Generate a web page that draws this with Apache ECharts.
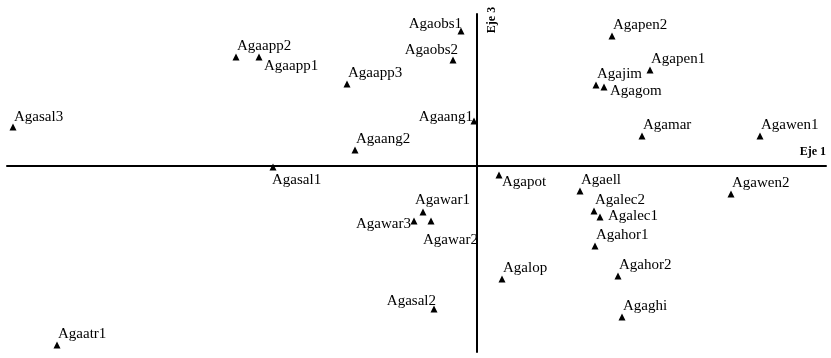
<!DOCTYPE html>
<html>
<head>
<meta charset="utf-8">
<script src="https://cdn.jsdelivr.net/npm/echarts@6/dist/echarts.min.js"></script>
<style>html,body{margin:0;padding:0;background:#fff}#c{width:831px;height:358px}</style>
</head>
<body>
<div id="c"></div>
<script>
// ---- data ----
var names = ['Agasal3','Agaapp2','Agaapp1','Agaapp3','Agaang2','Agasal1','Agaobs1','Agaobs2','Agaang1',
  'Agapen2','Agapen1','Agajim','Agagom','Agamar','Agawen1','Agapot','Agaell','Agalec2','Agalec1',
  'Agahor1','Agahor2','Agaghi','Agalop','Agawen2','Agawar1','Agawar3','Agawar2','Agasal2','Agaatr1'];
var eje1 = [-4.64,-2.41,-2.18,-1.30,-1.22,-2.04,-0.16,-0.24,-0.03,
  1.35,1.73,1.19,1.27,1.65,2.83,0.22,1.03,1.17,1.23,
  1.18,1.41,1.45,0.25,2.54,-0.54,-0.63,-0.46,-0.43,-4.20];
var eje3 = [0.39,1.09,1.09,0.82,0.16,-0.01,1.35,1.06,0.45,
  1.30,0.96,0.81,0.79,0.30,0.30,-0.09,-0.25,-0.45,-0.51,
  -0.80,-1.10,-1.51,-1.13,-0.28,-0.46,-0.55,-0.55,-1.43,-1.79];

// ---- label placement (style) ----
var defaultPlace = ['left', 1, -11];
var place = {
  'Agaapp1': ['left', 5, 9],
  'Agasal1': ['left', -1, 13],
  'Agaobs1': ['right', 1, -7],
  'Agaobs2': ['right', 5, -10],
  'Agaang1': ['right', -1, -4],
  'Agagom': ['left', 6, 4],
  'Agapot': ['left', 3, 7],
  'Agalec1': ['left', 8, -1],
  'Agawar1': ['left', -8, -12],
  'Agawar3': ['right', -3, 3],
  'Agawar2': ['left', -8, 19],
  'Agasal2': ['right', 2, -8],
  'Agasal3': ['left', 1, -10]
};

var data = names.map(function (n, i) {
  var p = place[n] || defaultPlace;
  return {
    name: n,
    value: [eje1[i], eje3[i]],
    label: { align: p[0], offset: [p[1], p[2]] }
  };
});

var chart = echarts.init(document.getElementById('c'));
var axisCommon = {
  type: 'value',
  axisLine: { show: true, onZero: true, lineStyle: { color: '#000', width: 2 } },
  axisTick: { show: false },
  axisLabel: { show: false },
  splitLine: { show: false }
};
chart.setOption({
  animation: false,
  backgroundColor: '#fff',
  grid: { left: 7, right: 5, top: 14, bottom: 6 },
  xAxis: Object.assign({}, axisCommon, { min: -4.70, max: 3.49 }),
  yAxis: Object.assign({}, axisCommon, { min: -1.86, max: 1.52 }),
  series: [{
    type: 'scatter',
    symbol: 'triangle',
    symbolSize: 7,
    itemStyle: { color: '#000', opacity: 1 },
    label: {
      show: true,
      position: 'inside',
      formatter: '{b}',
      verticalAlign: 'middle',
      fontFamily: 'Liberation Serif',
      fontSize: 15,
      color: '#000',
      textBorderWidth: 0
    },
    data: data
  }],
  graphic: [
    { type: 'text', right: 5, top: 146,
      style: { text: 'Eje 1', font: 'bold 12px "Liberation Serif"', fill: '#000' } },
    { type: 'text', x: 492, y: 20, rotation: Math.PI / 2,
      style: { text: 'Eje 3', font: 'bold 12px "Liberation Serif"', fill: '#000', align: 'center', verticalAlign: 'middle' } }
  ]
});
</script>
</body>
</html>
